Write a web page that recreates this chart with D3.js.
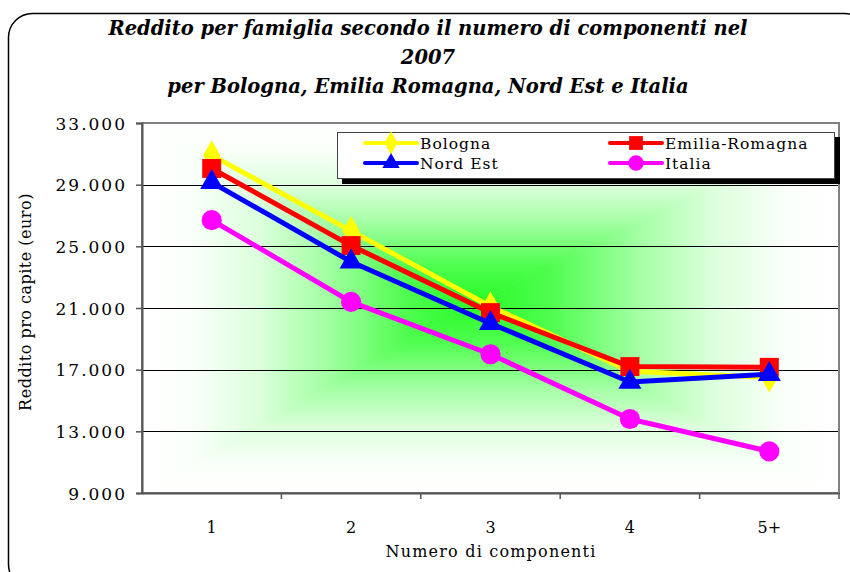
<!DOCTYPE html>
<html>
<head>
<meta charset="utf-8">
<script src="https://cdn.jsdelivr.net/npm/d3@7"></script>
<style>
  body { margin: 0; background: #fff; }
  svg { display: block; }
</style>
</head>
<body>
<div id="chart"></div>
<script>
// data
var categories = ['1', '2', '3', '4', '5+'];
var bologna = [30900, 26000, 21100, 16900, 16500];
var emiliaRomagna = [30050, 25050, 20700, 17200, 17150];
var nordEst = [29150, 24000, 20000, 16200, 16700];
var italia = [26700, 21400, 18000, 13800, 11700];
var yTicks = [9000, 13000, 17000, 21000, 25000, 29000, 33000];

var series = [
  { name: 'Bologna', values: bologna, color: '#ffff00', marker: 'diamond' },
  { name: 'Emilia-Romagna', values: emiliaRomagna, color: '#ff0000', marker: 'square' },
  { name: 'Nord Est', values: nordEst, color: '#0000ff', marker: 'triangle' },
  { name: 'Italia', values: italia, color: '#ff00ff', marker: 'circle' }
];

var width = 850,
    height = 572;

var plot = { left: 142, right: 839, top: 123, bottom: 493 };

var it = d3.formatLocale({ decimal: ',', thousands: '.', grouping: [3], currency: ['', ' €'] });
var fmt = it.format(',.0f');

var svg = d3.select('#chart')
  .append('svg')
  .attr('width', width)
  .attr('height', height);

var defs = svg.append('defs');

// outer rounded frame
svg.append('rect')
  .attr('x', 8.5).attr('y', 13.5)
  .attr('width', 860).attr('height', 575)
  .attr('rx', 24).attr('ry', 24)
  .attr('fill', '#fff')
  .attr('stroke', '#000')
  .attr('stroke-width', 1.5);

var x = d3.scaleBand()
  .domain(categories)
  .range([plot.left, plot.right])
  .padding(0);

var y = d3.scaleLinear()
  .domain([9000, 33000])
  .range([plot.bottom, plot.top]);

var cx = function(c) { return x(c) + x.bandwidth() / 2; };

// plot area background: rectangular "from centre" gradient built out of 4 triangles
var pcx = (plot.left + plot.right) / 2 - 15,
    pcy = (plot.top + plot.bottom) / 2 - 5;

var sides = [
  { id: 'gTop', pts: [[plot.left, plot.top], [plot.right, plot.top]], from: [pcx, plot.top] },
  { id: 'gBottom', pts: [[plot.left, plot.bottom], [plot.right, plot.bottom]], from: [pcx, plot.bottom] },
  { id: 'gLeft', pts: [[plot.left, plot.top], [plot.left, plot.bottom]], from: [plot.left, pcy] },
  { id: 'gRight', pts: [[plot.right, plot.top], [plot.right, plot.bottom]], from: [plot.right, pcy] }
];

var stops = [
  [0, '#ffffff'], [0.15, '#fafffa'], [0.35, '#dcffdc'],
  [0.55, '#a4ffa4'], [0.8, '#4dfd4d'], [1, '#28fb28']
];

sides.forEach(function(s) {
  var g = defs.append('linearGradient')
    .attr('id', s.id)
    .attr('gradientUnits', 'userSpaceOnUse')
    .attr('x1', s.from[0]).attr('y1', s.from[1])
    .attr('x2', pcx).attr('y2', pcy);
  stops.forEach(function(st) {
    g.append('stop').attr('offset', st[0]).attr('stop-color', st[1]);
  });
});

svg.append('g')
  .selectAll('path')
  .data(sides)
  .enter()
  .append('path')
  .attr('d', function(s) {
    return 'M' + s.pts[0] + 'L' + s.pts[1] + 'L' + [pcx, pcy] + 'Z';
  })
  .attr('fill', function(s) { return 'url(#' + s.id + ')'; })
  .attr('stroke', function(s) { return 'url(#' + s.id + ')'; })
  .attr('stroke-width', 0.6);

// gridlines
svg.append('g')
  .selectAll('line')
  .data(yTicks.slice(1, -1))
  .enter()
  .append('line')
  .attr('x1', plot.left).attr('x2', plot.right)
  .attr('y1', function(d) { return Math.round(y(d)) + 0.5; })
  .attr('y2', function(d) { return Math.round(y(d)) + 0.5; })
  .attr('stroke', '#000')
  .attr('stroke-width', 1);

// plot border
svg.append('rect')
  .attr('x', plot.left).attr('y', plot.top)
  .attr('width', plot.right - plot.left)
  .attr('height', plot.bottom - plot.top)
  .attr('fill', 'none')
  .attr('stroke', '#808080')
  .attr('stroke-width', 2);

// y axis
var yAxis = d3.axisLeft(y)
  .tickValues(yTicks)
  .tickSize(6)
  .tickFormat(fmt);

var gy = svg.append('g')
  .attr('transform', 'translate(' + plot.left + ',0)')
  .call(yAxis);
gy.select('.domain').attr('stroke', '#555').attr('stroke-width', 2);
gy.selectAll('.tick line').attr('stroke', '#555').attr('stroke-width', 1.5);
gy.selectAll('.tick text')
  .attr('x', -15)
  .attr('dy', '0.36em')
  .style('font-family', '"DejaVu Serif", serif')
  .style('font-size', '17px')
  .style('letter-spacing', '2px')
  .attr('fill', '#000');

// x axis
var xAxis = d3.axisBottom(x)
  .tickSize(0)
  .tickPadding(0);

var gx = svg.append('g')
  .attr('transform', 'translate(0,' + plot.bottom + ')')
  .call(xAxis);
gx.select('.domain').attr('stroke', '#555').attr('stroke-width', 2);
gx.selectAll('.tick text')
  .attr('y', 40)
  .attr('dy', 0)
  .style('font-family', '"DejaVu Serif", serif')
  .style('font-size', '16px')
  .attr('fill', '#000');

// category separators below the axis
svg.append('g')
  .selectAll('line')
  .data(categories.slice(1).concat(['end']))
  .enter()
  .append('line')
  .attr('x1', function(d) { return d === 'end' ? plot.right : x(d); })
  .attr('x2', function(d) { return d === 'end' ? plot.right : x(d); })
  .attr('y1', plot.bottom)
  .attr('y2', plot.bottom + 6)
  .attr('stroke', '#555')
  .attr('stroke-width', 1.5);

// series
var line = d3.line()
  .x(function(d, i) { return cx(categories[i]); })
  .y(function(d) { return y(d); });

var symbolOf = {
  diamond: d3.symbolDiamond,
  square: d3.symbolSquare,
  triangle: d3.symbolTriangle,
  circle: d3.symbolCircle
};
var sizeOf = { diamond: 260, square: 360, triangle: 230, circle: 320 };

series.forEach(function(s) {
  var g = svg.append('g');
  g.append('path')
    .attr('d', line(s.values))
    .attr('fill', 'none')
    .attr('stroke', s.color)
    .attr('stroke-width', 5)
    .attr('stroke-linejoin', 'round');
  g.selectAll('path.mk')
    .data(s.values)
    .enter()
    .append('path')
    .attr('class', 'mk')
    .attr('d', d3.symbol().type(symbolOf[s.marker]).size(sizeOf[s.marker]))
    .attr('transform', function(d, i) {
      return 'translate(' + cx(categories[i]) + ',' + y(d) + ')';
    })
    .attr('fill', s.color);
});

// legend
var lg = svg.append('g');
lg.append('rect')
  .attr('x', 342).attr('y', 137)
  .attr('width', 498).attr('height', 47)
  .attr('fill', '#000');
lg.append('rect')
  .attr('x', 337.5).attr('y', 132.5)
  .attr('width', 497).attr('height', 46)
  .attr('fill', '#fff')
  .attr('stroke', '#444')
  .attr('stroke-width', 1);

var legendPos = [[365, 143], [610, 143], [365, 163], [610, 163]];
var legendSize = { diamond: 150, square: 190, triangle: 130, circle: 190 };

series.forEach(function(s, i) {
  var p = legendPos[i];
  lg.append('line')
    .attr('x1', p[0]).attr('x2', p[0] + 52)
    .attr('y1', p[1]).attr('y2', p[1])
    .attr('stroke', s.color)
    .attr('stroke-width', 4)
    .attr('stroke-linecap', 'round');
  lg.append('path')
    .attr('d', d3.symbol().type(symbolOf[s.marker]).size(legendSize[s.marker]))
    .attr('transform', 'translate(' + (p[0] + 26) + ',' + p[1] + ')')
    .attr('fill', s.color);
  lg.append('text')
    .attr('x', p[0] + 55)
    .attr('y', p[1] + 6)
    .style('font-family', '"DejaVu Serif", serif')
    .style('font-size', '15.5px')
    .style('letter-spacing', '1px')
    .text(s.name);
});

// titles
var titleLines = [
  'Reddito per famiglia secondo il numero di componenti nel',
  '2007',
  'per Bologna, Emilia Romagna, Nord Est e Italia'
];
svg.append('g')
  .selectAll('text')
  .data(titleLines)
  .enter()
  .append('text')
  .attr('x', 428)
  .attr('y', function(d, i) { return 35 + i * 29; })
  .attr('text-anchor', 'middle')
  .style('font-family', '"DejaVu Serif", serif')
  .style('font-size', '19.5px')
  .style('font-weight', 'bold')
  .style('font-style', 'italic')
  .text(function(d) { return d; });

svg.append('text')
  .attr('x', 491)
  .attr('y', 557)
  .attr('text-anchor', 'middle')
  .style('font-family', '"DejaVu Serif", serif')
  .style('font-size', '16px')
  .style('letter-spacing', '1.2px')
  .text('Numero di componenti');

svg.append('text')
  .attr('transform', 'translate(31,302) rotate(-90)')
  .attr('text-anchor', 'middle')
  .style('font-family', '"DejaVu Serif", serif')
  .style('font-size', '16px')
  .style('letter-spacing', '0.5px')
  .text('Reddito pro capite (euro)');
</script>
</body>
</html>
